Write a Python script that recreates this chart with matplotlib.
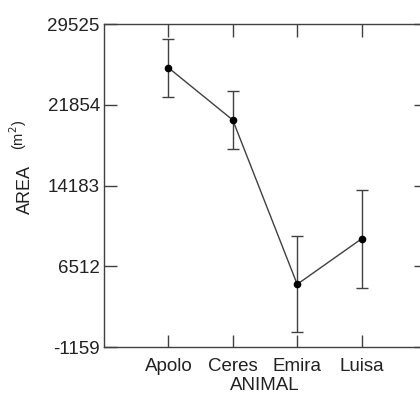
import matplotlib
matplotlib.use("Agg")
import matplotlib.pyplot as plt
import numpy as np

plt.rcParams['font.family'] = ['Liberation Sans', 'DejaVu Sans']

animals = ["Apolo", "Ceres", "Emira", "Luisa"]
area = [25370, 20400, 4800, 9120]
err = [2750, 2720, 4560, 4640]
yticks = [-1159, 6512, 14183, 21854, 29525]

fig = plt.figure(figsize=(4.2, 3.94), dpi=100)
ax = fig.add_axes([104/420, 1 - 347/394, 322/420, 323/394])

x = np.arange(1, len(animals) + 1)
ax.errorbar(x, area, yerr=err, fmt='o-', color='#404040', ecolor='#404040',
            elinewidth=1, capsize=4, capthick=1, lw=1,
            mfc='black', mec='black', ms=4.5)

ax.set_xlim(0, 5)
ax.set_ylim(-1159, 29525)
ax.set_xticks(x)
ax.set_xticklabels(animals)
ax.set_yticks(yticks)
ax.set_yticklabels([str(v) for v in yticks])
ax.tick_params(direction='in', length=9, width=1, top=True, right=True,
               labelsize=13.5, color='#404040', labelcolor='#222222', pad=3)
ax.tick_params(axis='x', pad=8)
for s in ax.spines.values():
    s.set_color('#404040')
    s.set_linewidth(1)

ax.set_xlabel("ANIMAL", fontsize=13.5, labelpad=1, color='#222222')
# y label: "AREA" and smaller "(m2)"
fig.text(25/420, 1 - 190/394, "AREA", rotation=90, fontsize=13,
         ha='center', va='center', color='#222222')
fig.text(18/420, 1 - 135/394, "(m$^2$)", rotation=90, fontsize=10.5,
         ha='center', va='center', color='#222222')

fig.savefig("out.png", dpi=100)
